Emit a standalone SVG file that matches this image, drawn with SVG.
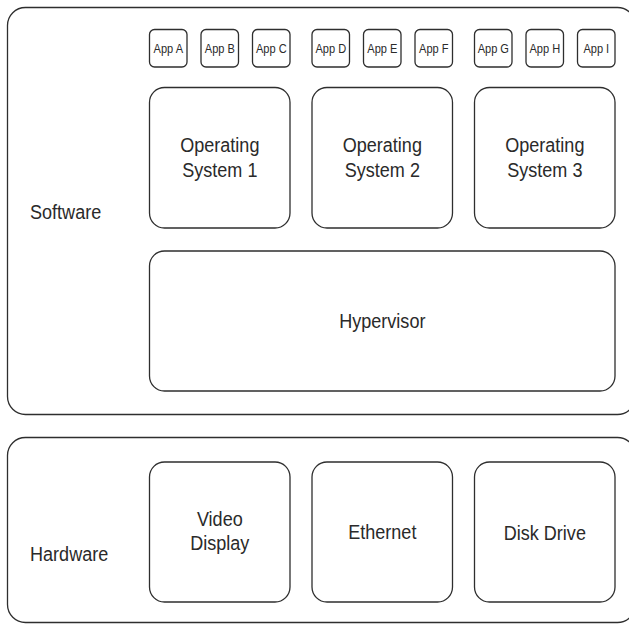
<svg xmlns="http://www.w3.org/2000/svg" width="629" height="624" viewBox="0 0 629 624">
<style>
rect{fill:#fff;stroke:#2e2e2e;stroke-width:1.3}
text{font-family:"Liberation Sans",Arial,sans-serif;fill:#2a2a2a;text-anchor:middle}
.big{font-size:21px}
.app{font-size:13px}
.lab{text-anchor:start}
</style>
<rect width="629" height="624" fill="#fff" style="stroke:none"/>
<g id="software">
<rect x="7.5" y="7.5" width="628" height="407" rx="18"/>
<text class="big lab" transform="translate(30,218.5) scale(0.86,1)">Software</text>
</g>
<g id="hardware">
<rect x="7.5" y="437.5" width="628" height="185" rx="18"/>
<text class="big lab" transform="translate(30,561) scale(0.86,1)">Hardware</text>
</g>
<g id="appA"><rect x="149.5" y="29.5" width="37.5" height="37.5" rx="5"/><text class="app" transform="translate(168.3,53) scale(0.85,1)">App A</text></g>
<g id="appB"><rect x="201" y="29.5" width="37.5" height="37.5" rx="5"/><text class="app" transform="translate(219.8,53) scale(0.85,1)">App B</text></g>
<g id="appC"><rect x="252.5" y="29.5" width="37.5" height="37.5" rx="5"/><text class="app" transform="translate(271.3,53) scale(0.85,1)">App C</text></g>
<g id="appD"><rect x="312" y="29.5" width="37.5" height="37.5" rx="5"/><text class="app" transform="translate(330.8,53) scale(0.85,1)">App D</text></g>
<g id="appE"><rect x="363.5" y="29.5" width="37.5" height="37.5" rx="5"/><text class="app" transform="translate(382.3,53) scale(0.85,1)">App E</text></g>
<g id="appF"><rect x="415" y="29.5" width="37.5" height="37.5" rx="5"/><text class="app" transform="translate(433.8,53) scale(0.85,1)">App F</text></g>
<g id="appG"><rect x="474.5" y="29.5" width="37.5" height="37.5" rx="5"/><text class="app" transform="translate(493.3,53) scale(0.85,1)">App G</text></g>
<g id="appH"><rect x="526" y="29.5" width="37.5" height="37.5" rx="5"/><text class="app" transform="translate(544.8,53) scale(0.85,1)">App H</text></g>
<g id="appI"><rect x="577.5" y="29.5" width="37.5" height="37.5" rx="5"/><text class="app" transform="translate(596.3,53) scale(0.85,1)">App I</text></g>
<g id="os1"><rect x="149.5" y="87.5" width="140.5" height="140.5" rx="15"/><text class="big" transform="translate(219.8,152) scale(0.86,1)">Operating</text><text class="big" transform="translate(219.8,177) scale(0.86,1)">System 1</text></g>
<g id="os2"><rect x="312" y="87.5" width="140.5" height="140.5" rx="15"/><text class="big" transform="translate(382.3,152) scale(0.86,1)">Operating</text><text class="big" transform="translate(382.3,177) scale(0.86,1)">System 2</text></g>
<g id="os3"><rect x="474.5" y="87.5" width="140.5" height="140.5" rx="15"/><text class="big" transform="translate(544.8,152) scale(0.86,1)">Operating</text><text class="big" transform="translate(544.8,177) scale(0.86,1)">System 3</text></g>
<g id="hypervisor"><rect x="149.5" y="251" width="465.5" height="140" rx="15"/><text class="big" transform="translate(382.3,328) scale(0.86,1)">Hypervisor</text></g>
<g id="video"><rect x="149.5" y="462" width="140.5" height="140" rx="15"/><text class="big" transform="translate(219.8,526) scale(0.86,1)">Video</text><text class="big" transform="translate(219.8,550) scale(0.86,1)">Display</text></g>
<g id="ethernet"><rect x="312" y="462" width="140.5" height="140" rx="15"/><text class="big" transform="translate(382.3,539) scale(0.86,1)">Ethernet</text></g>
<g id="disk"><rect x="474.5" y="462" width="140.5" height="140" rx="15"/><text class="big" transform="translate(544.8,539.5) scale(0.86,1)">Disk Drive</text></g>
<g id="connectors"/>
</svg>
